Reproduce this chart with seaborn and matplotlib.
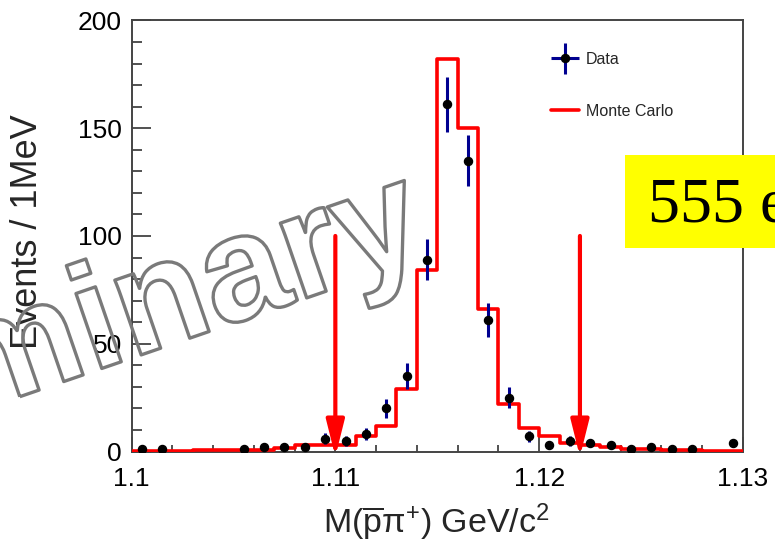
import numpy as np
import pandas as pd
import seaborn as sns
import matplotlib.pyplot as plt
from matplotlib.ticker import MultipleLocator
from matplotlib.patches import Rectangle
from matplotlib.container import ErrorbarContainer
from matplotlib.legend_handler import HandlerErrorbar
import matplotlib.patheffects as pe

# 1 MeV bins from 1.100 to 1.130 GeV/c^2
bin_edges = np.linspace(1.1, 1.13, 31)
data_counts = [1, 1, 0, 0, 0, 1, 2, 2, 2, 6, 5, 8, 20, 35, 89, 161, 135, 61, 25, 7,
               3, 5, 4, 3, 1, 2, 1, 1, 0, 4]
mc_counts = [0.3, 0.3, 0.3, 0.5, 0.5, 0.5, 0.8, 1.5, 3, 3, 3, 7, 12, 29, 84, 182, 150, 66, 22, 11,
             7, 4, 3, 2, 1, 1, 0.8, 0.5, 0.3, 0.3]
cut_low, cut_high = 1.11, 1.122
x_ticks = [1.1, 1.11, 1.12, 1.13]
x_ticklabels = ['1.1', '1.11', '1.12', '1.13']
y_ticks = [0, 50, 100, 150, 200]

sns.set_style('ticks')
plt.rcParams['font.family'] = ['Liberation Sans', 'DejaVu Sans']
plt.rcParams['mathtext.fontset'] = 'custom'
plt.rcParams['mathtext.rm'] = 'Liberation Sans'
plt.rcParams['mathtext.it'] = 'Liberation Sans:italic'

fig = plt.figure(figsize=(7.75, 5.44), dpi=100)
ax = fig.add_axes([0.1697, 0.170, 0.789, 0.7925])

centers = (bin_edges[:-1] + bin_edges[1:]) / 2
df = pd.DataFrame({'mass': centers, 'mc': mc_counts, 'data': data_counts})

# Monte Carlo histogram
sns.histplot(data=df, x='mass', weights='mc', bins=list(bin_edges), element='step', fill=False,
             color='#ff0000', linewidth=2.6, ax=ax, label='Monte Carlo', zorder=3)

# data with sqrt(N) errors, empty bins not drawn
d = df[df['data'] > 0]
ax.errorbar(d['mass'], d['data'], yerr=np.sqrt(d['data']), fmt='o', color='black',
            ms=5.8, ecolor='#000090', elinewidth=2.2, capsize=0, zorder=5)
# legend proxy with a cross
h_data = ax.errorbar([np.nan], [np.nan], xerr=[1], yerr=[1], fmt='o', color='black', ms=5.8,
                     ecolor='#000090', elinewidth=2.2, capsize=0)

# cut arrows
for xc in (cut_low, cut_high):
    ax.annotate('', xy=(xc, -2.4), xytext=(xc, 100), annotation_clip=False,
                arrowprops=dict(arrowstyle='-|>,head_length=2.2,head_width=0.55',
                                mutation_scale=10, color='#ff0000', lw=3, shrinkA=0, shrinkB=0),
                zorder=6)

ax.set_xlim(1.1, 1.13)
ax.set_ylim(0, 200)
ax.set_xticks(x_ticks)
ax.set_xticklabels(x_ticklabels)
ax.set_yticks(y_ticks)
ax.xaxis.set_minor_locator(MultipleLocator(0.002))
ax.yaxis.set_minor_locator(MultipleLocator(10))
ax.tick_params(axis='both', which='both', direction='in', labelsize=19, colors='#333333',
               labelcolor='black', width=1.2)
ax.tick_params(axis='x', which='major', length=11, pad=11)
ax.tick_params(axis='x', which='minor', length=5)
ax.tick_params(axis='y', which='major', length=14, pad=7)
ax.tick_params(axis='y', which='minor', length=7)
for s in ax.spines.values():
    s.set_color('#444444')
    s.set_linewidth(1.4)

ax.set_xlabel(r'M($\overline{\rm p}\pi^{+}$) GeV/c$^{2}$', fontsize=24.5)
ax.xaxis.set_label_coords(0.499, -0.116)
ax.set_ylabel('Events / 1MeV', fontsize=26)
ax.yaxis.set_label_coords(-0.142, 0.51)

handles, labels = ax.get_legend_handles_labels()
mc_handle = [h for h, l in zip(handles, labels) if l == 'Monte Carlo']
leg = ax.legend([h_data] + mc_handle, ['Data', 'Monte Carlo'], loc='upper left',
                bbox_to_anchor=(0.662, 0.96), frameon=False, fontsize=11.5,
                handlelength=1.8, labelspacing=2.3, handletextpad=0.4,
                handler_map={ErrorbarContainer: HandlerErrorbar(xerr_size=0.88, yerr_size=0.95)})

# watermark
fig.text(0.556, 0.531, 'Preliminary', rotation=19, rotation_mode='anchor', ha='right',
         va='baseline', fontsize=108, fontweight='bold',
         family=['Liberation Sans', 'DejaVu Sans'], color=(1, 1, 1, 0),
         path_effects=[pe.Stroke(linewidth=2.4, foreground='#7a7a7a')], zorder=7)

# yellow count box, clipped by the figure edge
fig.patches.append(Rectangle((625 / 775, (544 - 247.7) / 544), 1, 92.7 / 544,
                             transform=fig.transFigure, facecolor='#ffff00',
                             edgecolor='none', zorder=8))
fig.text(648 / 775, (544 - 221.7) / 544, '555 events', fontsize=46,
         family=['Liberation Serif', 'DejaVu Serif'], color='black', va='baseline',
         ha='left', zorder=9)

fig.savefig('out.png', dpi=100)
